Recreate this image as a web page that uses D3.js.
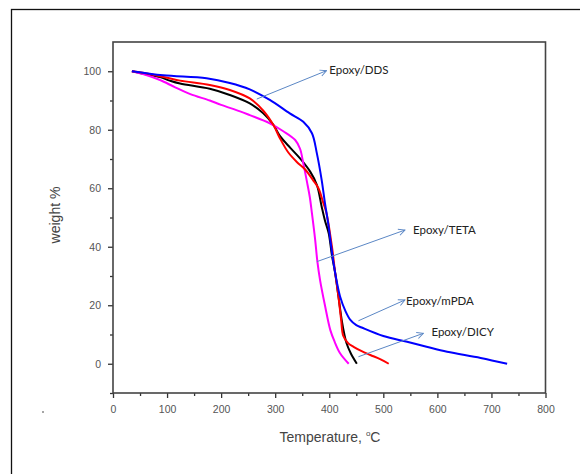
<!DOCTYPE html>
<html lang="en">
<head>
  <meta charset="utf-8">
  <title>TGA curves</title>
  <script src="https://d3js.org/d3.v7.min.js"></script>
  <style>
    body { margin: 0; background: #fff; }
    svg { display: block; }
    .tick text { fill: #555; font-family: "Liberation Sans", Arial, sans-serif; font-size: 10.5px; }
    .title { fill: #444; font-family: "Liberation Sans", Arial, sans-serif; }
    .note { fill: #222; font-family: Lato, "Open Sans", sans-serif; font-size: 11.5px; }
  </style>
</head>
<body>
<div id="container"></div>
<script>
  var w = 580, h = 474;

  // data: [temperature °C, weight %]
  var ddsData = [[35,100],[93,98.6],[173,97.6],[216,96],[253,93.8],[290,90.2],[327,85.6],[352,82.7],[368,78.8],
    [377,72],[386,62.8],[392,55],[398,48],[403,41],[408,34.3],[414,28],[420,23],[430,18],[439,15],[450,13.2],
    [460,12.4],[500,9.5],[544,7.5],[580,5.8],[618,4.1],[680,2],[729,0]];
  var dicyData = [[35,100],[60,99.3],[100,97.8],[124,96.8],[179,95.3],[216,93.6],[253,90.7],[278,86.5],[297,81.5],
    [309,77],[324,72.3],[340,69],[355,66.5],[370,62.8],[380,60],[389,55],[395,51.4],
    [405,40],[411,31],[417,23],[422,15],[426,9.5],[435,7],[445,5.8],[460,4.3],[476,3],[495,1.5],[510,0]];
  var tetaData = [[35,100],[60,99],[87,98],[105,96.8],[124,95.8],[179,94],[216,91.9],[253,89],[278,85.6],
    [297,81.6],[309,77.8],[328,73.8],[346,70.2],[365,65.6],[377,61.2],[386,53.7],[392,49],[399,44.6],[405,37],
    [411,31],[417,23],[423,15],[428,10],[432,7],[440,3.5],[451,0]];
  var mpdaData = [[35,100],[60,98.8],[87,97],[115,94.5],[143,92.2],[179,90],[200,88.5],[235,86.3],
    [253,85],[290,82.2],[315,79.5],[337,76.5],[346,73.5],[352,68.5],[359,62],[364,57],
    [368,51.4],[374,42.3],[378,35],[383,28.6],[392,20],[402,11.5],[410,7.5],[420,3.6],[436,0]];

  var seriesNames = ["Epoxy/TETA", "Epoxy/mPDA", "Epoxy/DICY", "Epoxy/DDS"];
  var seriesColors = ["#000000", "#ff00ff", "#ff0000", "#0000ff"];
  var seriesData = [tetaData, mpdaData, dicyData, ddsData];

  var xTicks = [0, 100, 200, 300, 400, 500, 600, 700, 800];
  var yTicks = [0, 20, 40, 60, 80, 100];

  // labels: name, arrow start [T, w], arrow tip [T, w], text start [T, w]
  var notes = [
    ["Epoxy/DDS", [266, 90.5], [395, 100.2], [400, 99]],
    ["Epoxy/TETA", [377, 34.9], [540, 45.7], [555, 44.4]],
    ["Epoxy/mPDA", [454, 14.7], [540, 21.8], [542, 20.1]],
    ["Epoxy/DICY", [454, 2.4], [574, 10.4], [589, 9.5]]
  ];

  var svg = d3.select("#container").append("svg")
    .attr("width", w).attr("height", h);

  // outer frame
  svg.append("rect")
    .attr("x", 11.5).attr("y", 9.5)
    .attr("width", 700).attr("height", 600)
    .attr("fill", "none").attr("stroke", "#111").attr("stroke-width", 1.3);

  var pLeft = 113, pRight = 545.5, pTop = 42, pBottom = 393;

  var x = d3.scaleLinear().domain([0, 800]).range([pLeft, pRight]);
  var y = d3.scaleLinear().domain([-10, 110]).range([pBottom, pTop]);

  // minor ticks
  svg.append("g")
    .attr("transform", "translate(0," + pBottom + ")")
    .call(d3.axisBottom(x).tickValues(d3.range(50, 800, 100)).tickSize(3).tickFormat(""))
    .call(function(g) { g.select(".domain").remove(); })
    .selectAll("line").attr("stroke", "#333").attr("stroke-width", 1.3);
  svg.append("g")
    .attr("transform", "translate(" + pLeft + ",0)")
    .call(d3.axisLeft(y).tickValues([-10, 10, 30, 50, 70, 90]).tickSize(3).tickFormat(""))
    .call(function(g) { g.select(".domain").remove(); })
    .selectAll("line").attr("stroke", "#333").attr("stroke-width", 1.3);

  // major ticks
  var xg = svg.append("g")
    .attr("transform", "translate(0," + pBottom + ")")
    .call(d3.axisBottom(x).tickValues(xTicks).tickSize(5).tickPadding(8));
  xg.select(".domain").remove();
  xg.selectAll("line").attr("stroke", "#333").attr("stroke-width", 1.3);

  var yg = svg.append("g")
    .attr("transform", "translate(" + pLeft + ",0)")
    .call(d3.axisLeft(y).tickValues(yTicks).tickSize(5).tickPadding(7));
  yg.select(".domain").remove();
  yg.selectAll("line").attr("stroke", "#333").attr("stroke-width", 1.3);

  // plot frame
  svg.append("rect")
    .attr("x", pLeft).attr("y", pTop)
    .attr("width", pRight - pLeft).attr("height", pBottom - pTop)
    .attr("fill", "none").attr("stroke", "#444").attr("stroke-width", 1.6);

  // curves
  var line = d3.line()
    .x(function(d) { return x(d[0]); })
    .y(function(d) { return y(d[1]); })
    .curve(d3.curveCatmullRom.alpha(0.5));

  svg.selectAll("path.curve")
    .data(seriesData)
    .enter()
    .append("path")
    .attr("class", "curve")
    .attr("d", line)
    .attr("fill", "none")
    .attr("stroke", function(d, i) { return seriesColors[i]; })
    .attr("stroke-width", 2);

  // annotations with arrows
  svg.append("defs").append("marker")
    .attr("id", "arr")
    .attr("viewBox", "0 0 10 10")
    .attr("refX", 9).attr("refY", 5)
    .attr("markerWidth", 8).attr("markerHeight", 8)
    .attr("markerUnits", "userSpaceOnUse")
    .attr("orient", "auto")
    .append("path")
    .attr("d", "M1,1 L9,5 L1,9")
    .attr("fill", "none").attr("stroke", "#5b87c5").attr("stroke-width", 1.2);

  notes.forEach(function(n) {
    svg.append("line")
      .attr("x1", x(n[1][0])).attr("y1", y(n[1][1]))
      .attr("x2", x(n[2][0])).attr("y2", y(n[2][1]))
      .attr("stroke", "#5b87c5").attr("stroke-width", 1)
      .attr("marker-end", "url(#arr)");
    svg.append("text")
      .attr("class", "note")
      .attr("x", x(n[3][0])).attr("y", y(n[3][1]))
      .text(n[0]);
  });

  // axis titles
  svg.append("text")
    .attr("class", "title")
    .attr("transform", "translate(60,215) rotate(-90)")
    .attr("text-anchor", "middle")
    .attr("font-size", 14)
    .text("weight %");

  var xt = svg.append("text")
    .attr("class", "title")
    .attr("x", 330).attr("y", 442)
    .attr("text-anchor", "middle")
    .attr("font-size", 14);
  xt.append("tspan").text("Temperature, ");
  xt.append("tspan").attr("dy", -6).attr("font-size", 8).text("o");
  xt.append("tspan").attr("dy", 6).text("C");

  // stray dot
  svg.append("circle").attr("cx", 43).attr("cy", 412).attr("r", 0.8).attr("fill", "#333");
</script>
</body>
</html>
